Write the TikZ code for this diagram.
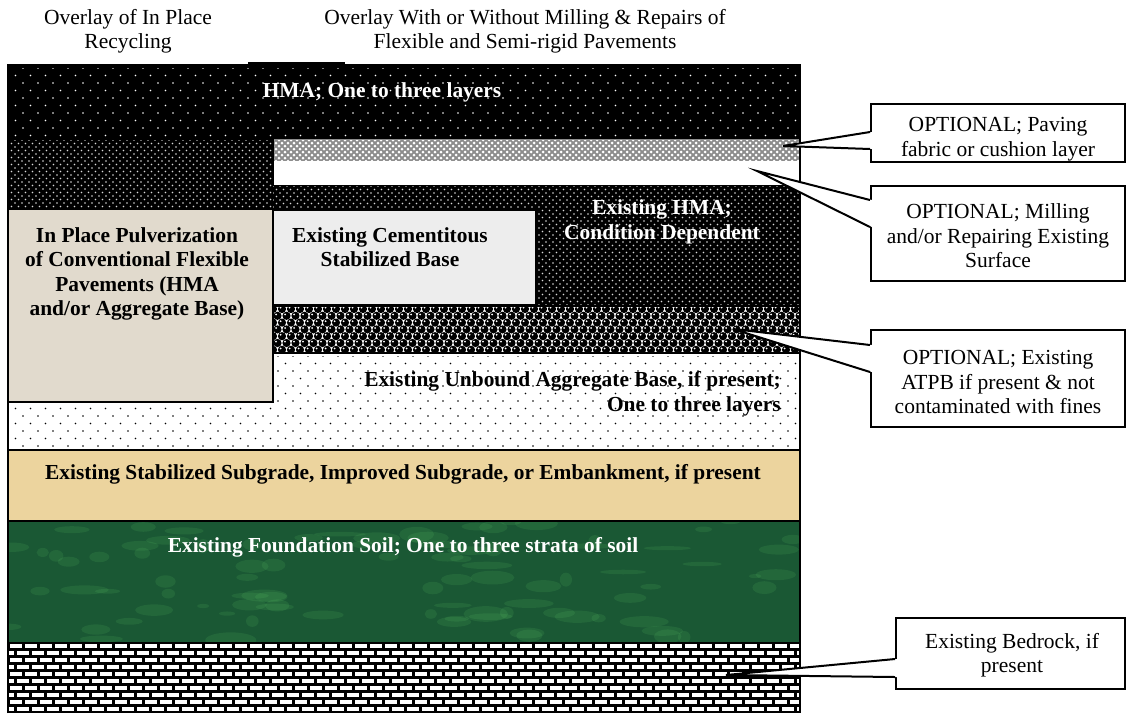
\documentclass[tikz,border=0pt]{standalone}
\usepackage{fontspec}
\setmainfont{Liberation Serif}
\usetikzlibrary{calc}
\definecolor{pulvbeige}{RGB}{225,218,205}
\definecolor{cemgrey}{RGB}{237,237,237}
\definecolor{subgradetan}{RGB}{236,212,158}
\definecolor{soilgreen}{RGB}{26,88,52}
\definecolor{fabricgrey}{RGB}{140,140,140}

% staggered dot field: x0, y0, x1, y1, step, colour, radius
\newcommand{\dotgrid}[7]{%
  \begin{scope}
    \clip (#1,#2) rectangle (#3,#4);
    \pgfmathtruncatemacro\ncols{(#3-#1)/#5+1}
    \pgfmathtruncatemacro\nrows{2*(#4-#2)/#5+1}
    \foreach \r in {0,...,\nrows}{
      \foreach \c in {0,...,\ncols}{
        \fill[#6] ({#1+#5*\c+0.5*#5*mod(\r,2)},{#2+0.5*#5*\r}) circle (#7);
      }}
  \end{scope}}

% callout pointer: box node, tip, upper y, lower y
\newcommand{\callwedge}[4]{%
  \fill[white] ($(#1.west |- 0,#3)+(1.8,0)$) -- (#2) -- ($(#1.west |- 0,#4)+(1.8,0)$) -- cycle;
  \draw[line width=2pt] (#1.west |- 0,#3) -- (#2) -- (#1.west |- 0,#4);}

\tikzset{
  layerline/.style={line width=2pt},
  layertext/.style={font=\fontsize{21.4}{24.6}\selectfont\bfseries, align=center, inner sep=0pt},
  titletext/.style={font=\fontsize{21.5}{24}\selectfont, align=center, inner sep=0pt},
  callbox/.style={draw, line width=2pt, fill=white},
  calltext/.style={align=center, inner sep=0pt, font=\fontsize{21.5}{24.5}\selectfont},
}

\begin{document}
\begin{tikzpicture}[x=1pt, y=-1pt]
\useasboundingbox (0,0) rectangle (1132,713);

% HMA overlay
\fill[black] (8,65) rectangle (800,139);
\fill[black] (248,62) rectangle (345,66);
\dotgrid{8}{68}{800}{139}{15}{white}{0.9}
% left column under the overlay
\fill[black] (8,139) rectangle (273,209);
\dotgrid{8}{140}{273}{209}{7}{white!85!black}{0.85}
% paving fabric and milled surface
\fill[fabricgrey] (273,139) rectangle (800,161);
\dotgrid{273}{140}{800}{161}{6}{white}{1.5}
\fill[white] (273,161) rectangle (800,185);
\draw[line width=1.2pt] (273,139) -- (273,185);
% existing HMA
\fill[black] (273,185) rectangle (800,306);
\dotgrid{273}{186}{800}{306}{7}{white!85!black}{0.85}
% ATPB
\fill[white] (273,306) rectangle (800,353);
\begin{scope}
  \clip (273,306) rectangle (800,353);
  \foreach \r in {0,...,7}{
    \foreach \c in {0,...,59}{
      \fill[black] ({273+9*\c+4.5*mod(\r,2)},{309+6.8*\r}) circle (4.1);
      \fill[white] ({271.6+9*\c+4.5*mod(\r,2)},{307.6+6.8*\r}) circle (1);
    }}
\end{scope}
% unbound aggregate base
\fill[white] (8,353) rectangle (800,450);
\dotgrid{8}{356}{800}{450}{15}{black}{0.8}
% pulverization and cementitious base
\filldraw[fill=pulvbeige, draw=black, layerline] (8,209) rectangle (273,402);
\filldraw[fill=cemgrey, draw=black, layerline] (273,210) rectangle (536,305);
% subgrade, soil, bedrock
\fill[subgradetan] (8,450) rectangle (800,521);
\fill[soilgreen] (8,521) rectangle (800,642);
\begin{scope}
  \clip (8,521) rectangle (800,642);
  \pgfmathsetseed{11}
  \foreach \k in {1,...,90}{
    \pgfmathsetmacro\px{8+792*rnd}
    \pgfmathsetmacro\py{521+121*rnd}
    \pgfmathsetmacro\rx{6+20*rnd}
    \pgfmathsetmacro\ry{2+6*rnd}
    \fill[green!50!white, opacity=0.09] (\px,\py) ellipse (\rx pt and \ry pt);
  }
\end{scope}
\fill[black] (8,642) rectangle (800,713);
\begin{scope}
  \clip (8,642) rectangle (800,713);
  \foreach \r in {0,...,10}{
    \foreach \c in {-1,...,53}{
      \fill[white] ({8+15*\c+7.5*mod(\r,2)+1.5},{642+7*\r+1.5}) rectangle +(12,4.4);
    }}
\end{scope}

% layer boundaries and frame
\draw[layerline] (273,306) -- (800,306) (273,353) -- (800,353);
\draw[layerline] (8,450) -- (800,450) (8,521) -- (800,521);
\draw[line width=1pt] (8,642) -- (800,642);
\draw[layerline] (8,713) -- (8,65) -- (800,65) -- (800,713);

% titles
\node[titletext] (titleRecyc) at (128,31) {Overlay of In Place\\Recycling};
\node[titletext] (titleMill) at (525,31) {Overlay With or Without Milling \& Repairs of\\Flexible and Semi-rigid Pavements};

% layer labels
\node[layertext, text=white] (hmaTop) at (382,92) {HMA; One to three layers};
\node[layertext, text=white] (hmaOld) at (662,222) {Existing HMA;\\Condition Dependent};
\node[layertext] (cemBase) at (390,247) {Existing Cementitous\\Stabilized Base};
\node[layertext] (pulvCol) at (137,274) {In Place Pulverization\\of Conventional Flexible\\Pavements (HMA\\and/or Aggregate Base)};
\node[layertext, align=right, anchor=east] (aggBase) at (781,394) {Existing Unbound Aggregate Base, if present;\\One to three layers};
\node[layertext] (subGrade) at (403,474) {Existing Stabilized Subgrade, Improved Subgrade, or Embankment, if present};
\node[layertext, text=white] (soilFound) at (403,547) {Existing Foundation Soil; One to three strata of soil};

% callouts
\coordinate (tipPave) at (783,146);
\coordinate (tipMill) at (757,171);
\coordinate (tipAtpb) at (733,329);
\coordinate (tipRock) at (726,675);
\node[callbox, minimum width=254pt, minimum height=58pt] (cPave) at (998,133) {};
\node[callbox, minimum width=254pt, minimum height=95pt] (cMill) at (998,233.5) {};
\node[callbox, minimum width=254pt, minimum height=97pt] (cAtpb) at (998,378.5) {};
\node[callbox, minimum width=229pt, minimum height=71pt] (cRock) at (1010.5,653.5) {};
\callwedge{cPave}{tipPave}{132}{149}
\callwedge{cMill}{tipMill}{200}{227}
\callwedge{cAtpb}{tipAtpb}{345}{372}
\callwedge{cRock}{tipRock}{659}{677}
\node[calltext] (tPave) at (998,139) {OPTIONAL; Paving\\fabric or cushion layer};
\node[calltext] (tMill) at (998,236) {OPTIONAL; Milling\\and/or Repairing Existing\\Surface};
\node[calltext] (tAtpb) at (998,382) {OPTIONAL; Existing\\ATPB if present \& not\\contaminated with fines};
\node[calltext] (tRock) at (1012,655) {Existing Bedrock, if\\present};
\end{tikzpicture}
\end{document}
